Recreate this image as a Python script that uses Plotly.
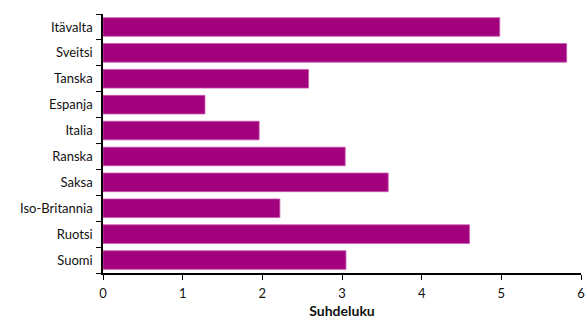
import plotly.graph_objects as go

countries = ["Itävalta", "Sveitsi", "Tanska", "Espanja", "Italia", "Ranska", "Saksa", "Iso-Britannia", "Ruotsi", "Suomi"]
values = [4.98, 5.82, 2.58, 1.28, 1.96, 3.04, 3.58, 2.22, 4.60, 3.05]
x_ticks = [0, 1, 2, 3, 4, 5, 6]

fig = go.Figure(go.Bar(
    y=countries, x=values, orientation="h",
    marker=dict(color="#A3007D", line=dict(color="#C85AAE", width=0.8)),
    width=0.72,
))

fig.update_layout(
    width=587, height=320,
    margin=dict(l=103, r=6, t=14, b=47),
    plot_bgcolor="white", paper_bgcolor="white",
    font=dict(family="Lato, Open Sans, sans-serif", size=13, color="#111"),
    showlegend=False,
)
fig.update_yaxes(
    categoryorder="array", categoryarray=countries[::-1],
    range=[-0.5, 9.5], automargin=False,
    showline=True, linecolor="black", linewidth=1.5,
    ticks="outside", ticklen=5, tickcolor="black", tickson="boundaries",
    showgrid=False, ticklabelstandoff=6,
)
fig.update_xaxes(
    range=[0, 6], tickvals=x_ticks, automargin=False,
    showline=True, linecolor="black", linewidth=1.5,
    ticks="outside", ticklen=5, tickcolor="black",
    showgrid=False, zeroline=False,
    title=dict(text="<b>Suhdeluku</b>", font=dict(size=14), standoff=6),
    ticklabelstandoff=3,
)

fig.write_html("out.html")
